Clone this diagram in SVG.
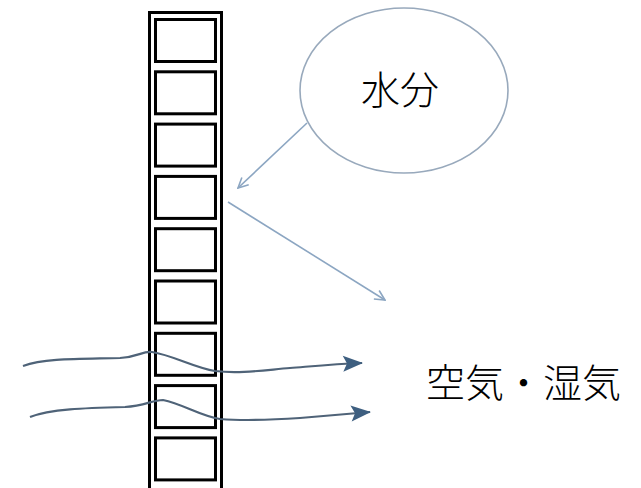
<svg xmlns="http://www.w3.org/2000/svg" width="641" height="488" viewBox="0 0 641 488">
<defs>
<style>
.cell{fill:#fff;stroke:#000;stroke-width:3}
.lbl{font-family:"Noto Sans CJK JP","Noto Sans",sans-serif;fill:#000;font-size:39px;font-weight:300}
.thin{fill:none;stroke:#8ca6c2;stroke-width:1.6}
.wave{fill:none;stroke:#4f6378;stroke-width:2.2}
</style>
<marker id="open" viewBox="0 0 12 12" refX="11" refY="6" markerWidth="12" markerHeight="12" markerUnits="userSpaceOnUse" orient="auto">
<path d="M1,1 L11,6 L1,11" fill="none" stroke="#8ca6c2" stroke-width="1.6"/>
</marker>
<marker id="solid" viewBox="0 0 20 20" refX="19" refY="10" markerWidth="22" markerHeight="20" markerUnits="userSpaceOnUse" orient="auto">
<path d="M0,2 L20,10 L0,18 L4,10 Z" fill="#3e5f80"/>
</marker>
</defs>
<rect width="641" height="488" fill="#fff"/>
<g id="column">
<rect class="cell" x="149.5" y="12.5" width="72" height="478"/>
<rect class="cell" x="155.5" y="19.5" width="60" height="42"/>
<rect class="cell" x="155.5" y="71.8" width="60" height="42"/>
<rect class="cell" x="155.5" y="124.1" width="60" height="42"/>
<rect class="cell" x="155.5" y="176.4" width="60" height="42"/>
<rect class="cell" x="155.5" y="228.7" width="60" height="42"/>
<rect class="cell" x="155.5" y="281" width="60" height="42"/>
<rect class="cell" x="155.5" y="333.3" width="60" height="42"/>
<rect class="cell" x="155.5" y="385.6" width="60" height="42"/>
<rect class="cell" x="155.5" y="437.9" width="60" height="42"/>
</g>
<g id="water">
<ellipse cx="404" cy="90.5" rx="104" ry="82.5" fill="#fff" stroke="#98a9bc" stroke-width="1.6"/>
<text class="lbl" x="400" y="104" text-anchor="middle">水分</text>
</g>
<g id="air">
<text class="lbl" x="426" y="397">空気・湿気</text>
</g>
<g id="connectors">
<line class="thin" x1="307" y1="123" x2="238" y2="188" marker-end="url(#open)"/>
<line class="thin" x1="228" y1="202" x2="385" y2="300" marker-end="url(#open)"/>
<path class="wave" d="M23,366 C45,358 80,359 120,358 C138,357 142,351 152,352 C172,355 195,368 215,371 C240,374 265,370 290,368 C315,366 335,364 362,363" marker-end="url(#solid)"/>
<path class="wave" d="M30,417 C50,409 85,408 125,407 C145,406 152,400 163,400 C183,404 200,416 220,419 C245,421 270,420 300,418 C325,416 345,414 370,412" marker-end="url(#solid)"/>
</g>
</svg>
